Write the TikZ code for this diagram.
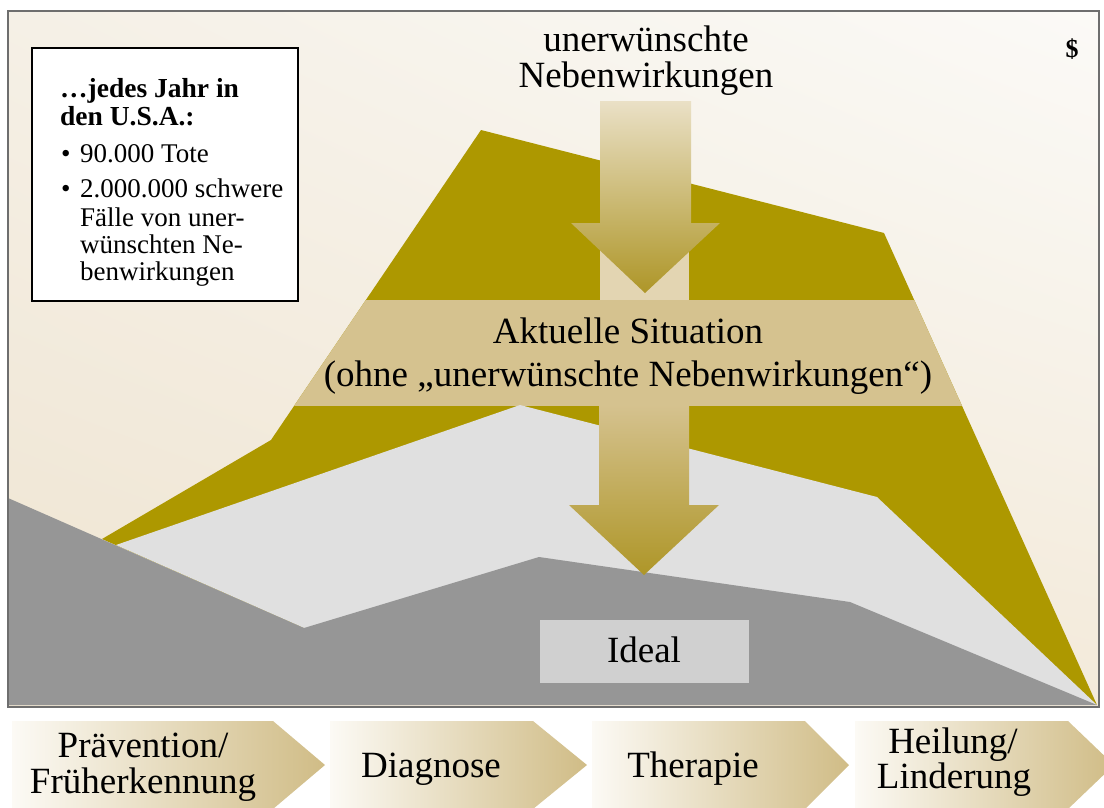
\documentclass[tikz,border=0pt]{standalone}
\usepackage{fontspec}
\setmainfont{Liberation Serif}
\usetikzlibrary{shadings}
\definecolor{bgUL}{HTML}{F5F0E6}
\definecolor{bgUR}{HTML}{FBFAF7}
\definecolor{bgLL}{HTML}{EFE4D1}
\definecolor{bgLR}{HTML}{F3EADA}
\definecolor{oliv}{HTML}{AD9800}
\definecolor{bandcol}{HTML}{D5C28F}
\definecolor{lgray}{HTML}{E0E0E0}
\definecolor{dgray}{HTML}{969696}
\definecolor{idealgray}{HTML}{D0D0D0}
\definecolor{shaftlight}{HTML}{E3D5B2}
\definecolor{arrtop}{HTML}{EAE0C6}
\definecolor{arrtip}{HTML}{AE9628}
\definecolor{chevL}{HTML}{FCFAF5}
\definecolor{chevR}{HTML}{D0BC86}
\definecolor{framegray}{HTML}{6E6E6E}
\tikzset{
  bigtxt/.style={font=\fontsize{37}{36}\selectfont, inner sep=0pt, anchor=base},
  boxtxt/.style={font=\fontsize{27}{28}\selectfont, inner sep=0pt, anchor=base west},
  boxhead/.style={font=\fontsize{27.5}{28}\selectfont\bfseries, inner sep=0pt, anchor=base west},
  chevronshape/.style={left color=chevL, right color=chevR},
}
\begin{document}
\begin{tikzpicture}[x=1pt,y=-1pt]
\useasboundingbox (0,0) rectangle (1104,807);
% background
\shade[upper left=bgUL, upper right=bgUR, lower left=bgLL, lower right=bgLR] (8,11) rectangle (1099,707);
% olive mountain
\fill[oliv] (102,539) -- (271,440) -- (481,130) -- (884,233) -- (1097,705) -- (304,628) -- cycle;
% light part of upper shaft
\fill[shaftlight] (600,249) rectangle (689,300);
% upper arrow
\shade[top color=arrtop, bottom color=arrtip] (600,101) -- (691,101) -- (691,223) -- (720,223) -- (645,293) -- (571,223) -- (600,223) -- cycle;
% band
\begin{scope}
  \clip (0,300) rectangle (1104,405);
  \fill[bandcol] (102,539) -- (271,440) -- (481,130) -- (884,233) -- (1097,705) -- (304,628) -- cycle;
\end{scope}
% light gray
\fill[lgray] (116,545) -- (520,405) -- (877,497) -- (1097,705) -- (304,628) -- cycle;
% dark gray
\fill[dgray] (8,498) -- (304,628) -- (539,557) -- (850,602) -- (1097,705) -- (8,705) -- cycle;
% lower arrow
\shade[top color=bandcol, bottom color=arrtip] (599,405) -- (689,405) -- (689,505) -- (719,505) -- (644,575) -- (569,505) -- (599,505) -- cycle;
% ideal box
\fill[idealgray] (540,620) rectangle (749,683);
\node[bigtxt] (ideal) at (644,662) {Ideal};
% info box
\draw[black, line width=1.5pt, fill=white] (32,48) rectangle (298,301);
\node[boxhead] (h1) at (60,97) {…jedes Jahr in};
\node[boxhead] (h2) at (60,125) {den U.S.A.:};
\node[boxtxt] (b1) at (61,162) {•};
\node[boxtxt] (t1) at (80,162) {90.000 Tote};
\node[boxtxt] (b2) at (61,197) {•};
\node[boxtxt] (t2) at (80,197) {2.000.000 schwere};
\node[boxtxt] (t3) at (80,226) {Fälle von uner-};
\node[boxtxt] (t4) at (80,253) {wünschten Ne-};
\node[boxtxt] (t5) at (80,280) {benwirkungen};
% texts
\node[bigtxt] (uw1) at (646,51) {unerwünschte};
\node[bigtxt] (uw2) at (646,87) {Nebenwirkungen};
\node[bigtxt] (akt1) at (628,343) {Aktuelle Situation};
\node[bigtxt] (akt2) at (628,386) {(ohne „unerwünschte Nebenwirkungen“)};
\node[font=\fontsize{26}{26}\selectfont\bfseries, anchor=base, inner sep=0pt] (dollar) at (1072,57) {\$};
% frame
\draw[framegray, line width=2.5pt] (8,11) rectangle (1099,707);
% chevrons
\shade[chevronshape] (12,721) -- (273,721) -- (325,765) -- (273,809) -- (12,809) -- cycle;
\shade[chevronshape] (330,721) -- (533,721) -- (587,765) -- (533,809) -- (330,809) -- cycle;
\shade[chevronshape] (592,721) -- (805,721) -- (849,765) -- (805,809) -- (592,809) -- cycle;
\shade[chevronshape] (855,721) -- (1068,721) -- (1114,765) -- (1068,809) -- (855,809) -- cycle;
\node[bigtxt] (c1a) at (143,757) {Prävention/};
\node[bigtxt] (c1b) at (143,793) {Früherkennung};
\node[bigtxt] (c2) at (431,777) {Diagnose};
\node[bigtxt] (c3) at (693,777) {Therapie};
\node[bigtxt] (c4a) at (953,753) {Heilung/};
\node[bigtxt] (c4b) at (954,788) {Linderung};
\end{tikzpicture}
\end{document}
